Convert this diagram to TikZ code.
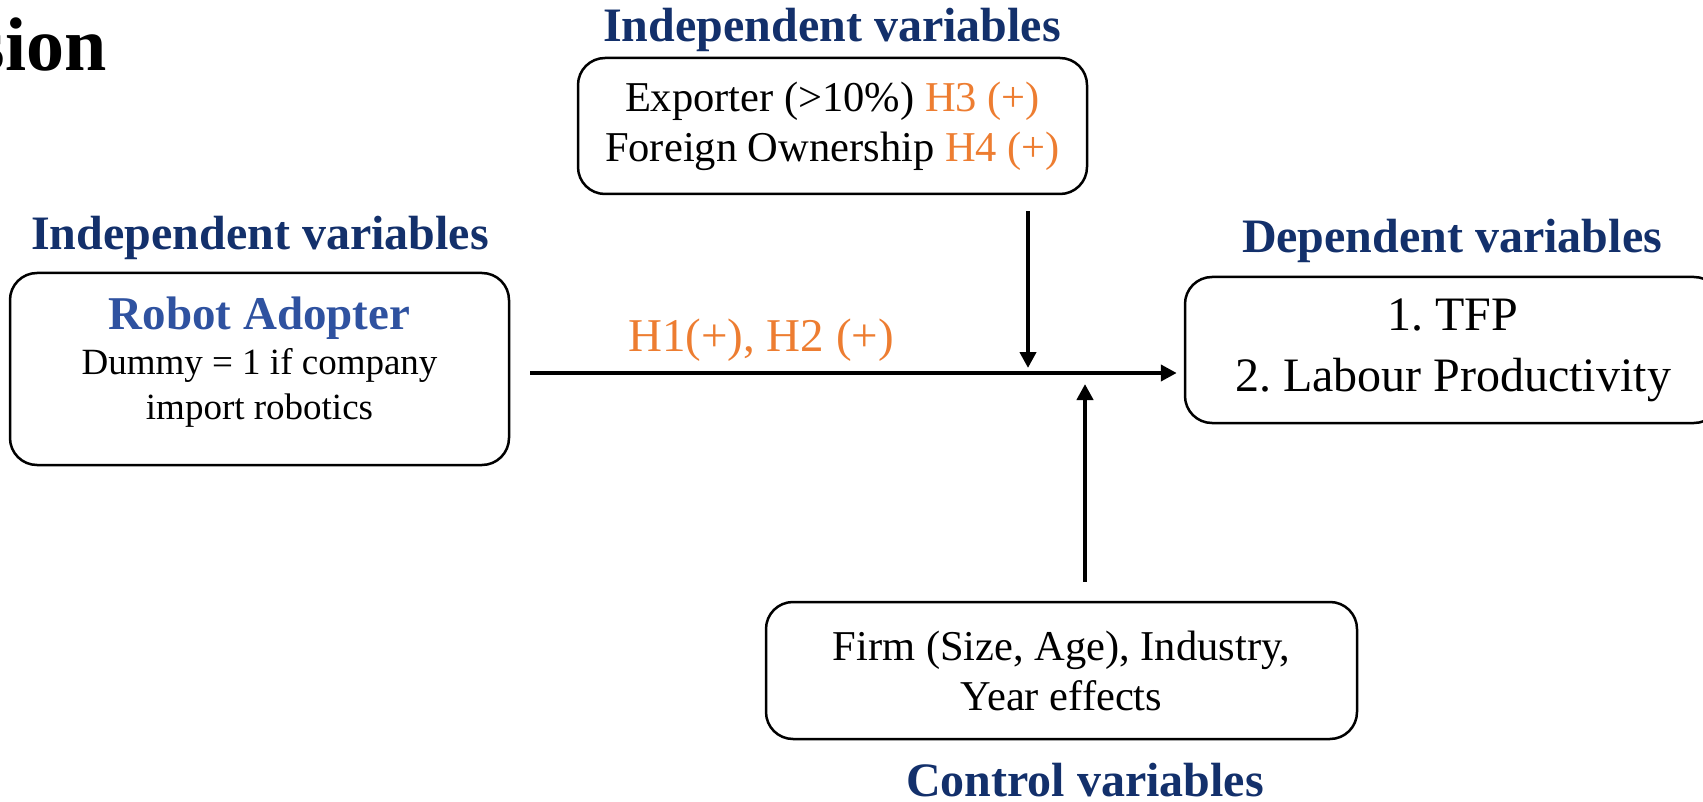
\documentclass[tikz,border=0pt]{standalone}
\usepackage{fontspec}
\setmainfont{Liberation Serif}
\usetikzlibrary{arrows.meta}
\frenchspacing

\definecolor{headnavy}{RGB}{19,48,107}
\definecolor{robotblue}{RGB}{47,82,160}
\definecolor{hypo}{RGB}{237,125,49}

\tikzstyle{every node}=[font=\fontsize{42.5pt}{50pt}\selectfont, inner sep=0pt]
\tikzstyle{heading}=[font=\fontsize{48pt}{56pt}\selectfont\bfseries, text=headnavy, anchor=base]
\tikzstyle{varbox}=[draw, line width=2.5pt, rounded corners=27pt, align=center]
\tikzstyle{link}=[line width=4pt, -{Triangle[length=16pt,width=16pt]}]

\begin{document}
\begin{tikzpicture}[x=1pt, y=-1pt]
	            \useasboundingbox (0,0) rectangle (1703,802);
	            \clip (0,0) rectangle (1703,802);

	            % Title fragment
	            \node[anchor=base east, font=\fontsize{76pt}{80pt}\selectfont\bfseries] (title) at (107,71) {sion};

	            % Headings
	            \node[heading] (headtop) at (832,42) {Independent variables};
	            \node[heading] (headleft) at (260,250) {Independent variables};
	            \node[heading] (headdep) at (1452,253) {Dependent variables};
	            \node[heading] (headctrl) at (1085,796) {Control variables};

	            % Boxes
	            \node[varbox, minimum width=509pt, minimum height=136pt] (modbox) at (832.5,126)
	                {Exporter (>10\%) \textcolor{hypo}{H3 (+)}\\ Foreign Ownership \textcolor{hypo}{H4 (+)}};
	            \node[varbox, minimum width=499pt, minimum height=192pt, font=\fontsize{37pt}{45pt}\selectfont] (robot) at (259.5,369)
	                {{\fontsize{47pt}{45pt}\selectfont\bfseries\color{robotblue}Robot Adopter}\\ Dummy = 1 if company\\ import robotics\rule[-22pt]{0pt}{0pt}};
	            \node[varbox, minimum width=536pt, minimum height=146pt, font=\fontsize{48pt}{61pt}\selectfont] (depbox) at (1453,350)
	                {1. TFP\\ 2. Labour Productivity};
	            \node[varbox, minimum width=591pt, minimum height=137pt] (ctrlbox) at (1061.5,670.5)
	                {Firm (Size, Age), Industry,\\ Year effects};

	            % Arrows
	            \coordinate (hl) at (0,373);
	            \coordinate (topjoin) at (1028,368);
	            \coordinate (botjoin) at (1085,384);
	            \draw[link, shorten <=20pt, shorten >=7pt] (robot.east |- hl) -- (depbox.west |- hl);
	            \node[text=hypo, font=\fontsize{47pt}{50pt}\selectfont, anchor=base] (hlabel) at (761,352) {H1(+), H2 (+)};
	            \draw[link, shorten <=16pt] (modbox.south -| topjoin) -- (topjoin);
	            \draw[link, shorten <=19pt] (ctrlbox.north -| botjoin) -- (botjoin);
	        \end{tikzpicture}
\end{document}
